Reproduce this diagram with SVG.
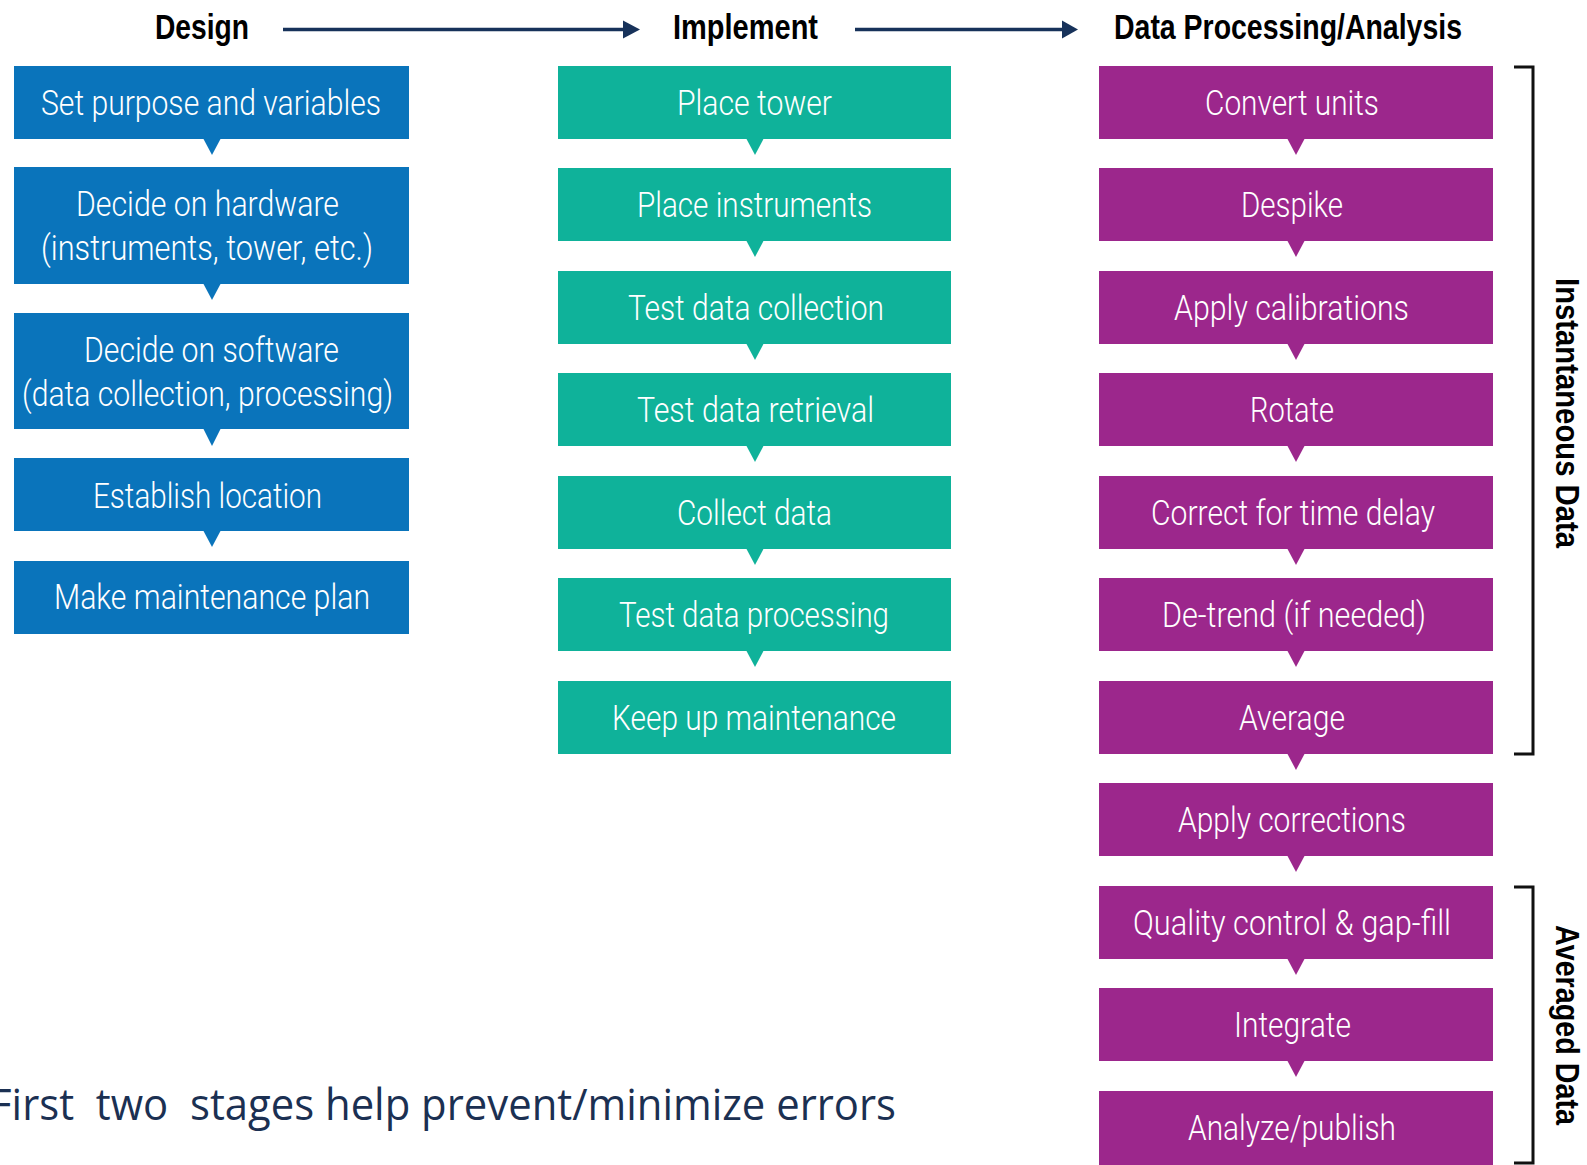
<svg xmlns="http://www.w3.org/2000/svg" width="1587" height="1165" viewBox="0 0 1587 1165">
  <style>
    .blue { fill: #0a74bb; }
    .teal { fill: #0fb29a; }
    .purple { fill: #9c278c; }
    .lbl { font-family: Roboto, "Liberation Sans", Arial, sans-serif; font-size: 35px; font-weight: 300; fill: #ffffff; }
    .hdr { font-family: "Liberation Sans", Arial, sans-serif; font-size: 35px; font-weight: bold; fill: #000000; }
    .side { font-family: "Liberation Sans", Arial, sans-serif; font-size: 34px; font-weight: bold; fill: #000000; }
    .note { font-family: "Open Sans", "Liberation Sans", sans-serif; font-size: 44px; fill: #1b3052; white-space: pre; }
    .flow { stroke: #17325a; stroke-width: 3.5; fill: none; }
    .head { fill: #17325a; }
    .bracket { stroke: #111111; stroke-width: 3; fill: none; }
  </style>

  <!-- column headings -->
  <g id="hdr-design"><text class="hdr" x="155" y="39" textLength="94" lengthAdjust="spacingAndGlyphs">Design</text></g>
  <g id="hdr-implement"><text class="hdr" x="673" y="39" textLength="145" lengthAdjust="spacingAndGlyphs">Implement</text></g>
  <g id="hdr-processing"><text class="hdr" x="1114" y="39" textLength="348" lengthAdjust="spacingAndGlyphs">Data Processing/Analysis</text></g>

  <!-- Design column -->
  <g id="d1"><rect class="blue" x="14" y="66" width="395" height="73"/>
    <text class="lbl" x="41" y="115" textLength="340" lengthAdjust="spacingAndGlyphs">Set purpose and variables</text></g>
  <g id="d2"><rect class="blue" x="14" y="167" width="395" height="117"/>
    <text class="lbl" x="76" y="216" textLength="263" lengthAdjust="spacingAndGlyphs">Decide on hardware</text>
    <text class="lbl" x="41" y="260" textLength="332" lengthAdjust="spacingAndGlyphs">(instruments, tower, etc.)</text></g>
  <g id="d3"><rect class="blue" x="14" y="313" width="395" height="116"/>
    <text class="lbl" x="84" y="362" textLength="255" lengthAdjust="spacingAndGlyphs">Decide on software</text>
    <text class="lbl" x="22" y="406" textLength="371" lengthAdjust="spacingAndGlyphs">(data collection, processing)</text></g>
  <g id="d4"><rect class="blue" x="14" y="458" width="395" height="73"/>
    <text class="lbl" x="93" y="508" textLength="229" lengthAdjust="spacingAndGlyphs">Establish location</text></g>
  <g id="d5"><rect class="blue" x="14" y="561" width="395" height="73"/>
    <text class="lbl" x="54" y="609" textLength="316" lengthAdjust="spacingAndGlyphs">Make maintenance plan</text></g>

  <!-- Implement column -->
  <g id="i1"><rect class="teal" x="558" y="66" width="393" height="73"/>
    <text class="lbl" x="677" y="115" textLength="155" lengthAdjust="spacingAndGlyphs">Place tower</text></g>
  <g id="i2"><rect class="teal" x="558" y="168" width="393" height="73"/>
    <text class="lbl" x="637" y="217" textLength="235" lengthAdjust="spacingAndGlyphs">Place instruments</text></g>
  <g id="i3"><rect class="teal" x="558" y="271" width="393" height="73"/>
    <text class="lbl" x="628" y="320" textLength="256" lengthAdjust="spacingAndGlyphs">Test data collection</text></g>
  <g id="i4"><rect class="teal" x="558" y="373" width="393" height="73"/>
    <text class="lbl" x="637" y="422" textLength="237" lengthAdjust="spacingAndGlyphs">Test data retrieval</text></g>
  <g id="i5"><rect class="teal" x="558" y="476" width="393" height="73"/>
    <text class="lbl" x="677" y="525" textLength="155" lengthAdjust="spacingAndGlyphs">Collect data</text></g>
  <g id="i6"><rect class="teal" x="558" y="578" width="393" height="73"/>
    <text class="lbl" x="619" y="627" textLength="270" lengthAdjust="spacingAndGlyphs">Test data processing</text></g>
  <g id="i7"><rect class="teal" x="558" y="681" width="393" height="73"/>
    <text class="lbl" x="612" y="730" textLength="284" lengthAdjust="spacingAndGlyphs">Keep up maintenance</text></g>

  <!-- Data processing column -->
  <g id="p1"><rect class="purple" x="1099" y="66" width="394" height="73"/>
    <text class="lbl" x="1205" y="115" textLength="174" lengthAdjust="spacingAndGlyphs">Convert units</text></g>
  <g id="p2"><rect class="purple" x="1099" y="168" width="394" height="73"/>
    <text class="lbl" x="1241" y="217" textLength="102" lengthAdjust="spacingAndGlyphs">Despike</text></g>
  <g id="p3"><rect class="purple" x="1099" y="271" width="394" height="73"/>
    <text class="lbl" x="1174" y="320" textLength="235" lengthAdjust="spacingAndGlyphs">Apply calibrations</text></g>
  <g id="p4"><rect class="purple" x="1099" y="373" width="394" height="73"/>
    <text class="lbl" x="1250" y="422" textLength="84" lengthAdjust="spacingAndGlyphs">Rotate</text></g>
  <g id="p5"><rect class="purple" x="1099" y="476" width="394" height="73"/>
    <text class="lbl" x="1151" y="525" textLength="284" lengthAdjust="spacingAndGlyphs">Correct for time delay</text></g>
  <g id="p6"><rect class="purple" x="1099" y="578" width="394" height="73"/>
    <text class="lbl" x="1162" y="627" textLength="264" lengthAdjust="spacingAndGlyphs">De-trend (if needed)</text></g>
  <g id="p7"><rect class="purple" x="1099" y="681" width="394" height="73"/>
    <text class="lbl" x="1239" y="730" textLength="106" lengthAdjust="spacingAndGlyphs">Average</text></g>
  <g id="p8"><rect class="purple" x="1099" y="783" width="394" height="73"/>
    <text class="lbl" x="1178" y="832" textLength="228" lengthAdjust="spacingAndGlyphs">Apply corrections</text></g>
  <g id="p9"><rect class="purple" x="1099" y="886" width="394" height="73"/>
    <text class="lbl" x="1133" y="935" textLength="318" lengthAdjust="spacingAndGlyphs">Quality control &amp; gap-fill</text></g>
  <g id="p10"><rect class="purple" x="1099" y="988" width="394" height="73"/>
    <text class="lbl" x="1234" y="1037" textLength="117" lengthAdjust="spacingAndGlyphs">Integrate</text></g>
  <g id="p11"><rect class="purple" x="1099" y="1091" width="394" height="74"/>
    <text class="lbl" x="1188" y="1140" textLength="208" lengthAdjust="spacingAndGlyphs">Analyze/publish</text></g>

  <!-- brackets grouping the processing steps -->
  <g id="grp-instantaneous">
    <path class="bracket" d="M1514,67 H1533 V754 H1514"/>
    <text class="side" transform="translate(1556,278) rotate(90)" textLength="270" lengthAdjust="spacingAndGlyphs">Instantaneous Data</text>
  </g>
  <g id="grp-averaged">
    <path class="bracket" d="M1514,887 H1533 V1163 H1514"/>
    <text class="side" transform="translate(1556,925) rotate(90)" textLength="200" lengthAdjust="spacingAndGlyphs">Averaged Data</text>
  </g>

  <!-- connectors: stage arrows and step pointers -->
  <g id="connectors">
    <line class="flow" x1="283" y1="29.5" x2="626" y2="29.5"/>
    <polygon class="head" points="623,20.5 640,29.5 623,38.5"/>
    <line class="flow" x1="855" y1="29.5" x2="1064" y2="29.5"/>
    <polygon class="head" points="1062,20.5 1078,29.5 1062,38.5"/>

    <polygon class="blue" points="203,138 221,138 212,155"/>
    <polygon class="blue" points="203,283 221,283 212,300"/>
    <polygon class="blue" points="203,428 221,428 212,446"/>
    <polygon class="blue" points="203,530 221,530 212,547"/>

    <polygon class="teal" points="746,138 764,138 755,155"/>
    <polygon class="teal" points="746,240 764,240 755,257"/>
    <polygon class="teal" points="746,343 764,343 755,360"/>
    <polygon class="teal" points="746,445 764,445 755,462"/>
    <polygon class="teal" points="746,548 764,548 755,565"/>
    <polygon class="teal" points="746,650 764,650 755,667"/>

    <polygon class="purple" points="1287,138 1305,138 1296,155"/>
    <polygon class="purple" points="1287,240 1305,240 1296,257"/>
    <polygon class="purple" points="1287,343 1305,343 1296,360"/>
    <polygon class="purple" points="1287,445 1305,445 1296,462"/>
    <polygon class="purple" points="1287,548 1305,548 1296,565"/>
    <polygon class="purple" points="1287,650 1305,650 1296,667"/>
    <polygon class="purple" points="1287,753 1305,753 1296,770"/>
    <polygon class="purple" points="1287,855 1305,855 1296,872"/>
    <polygon class="purple" points="1287,958 1305,958 1296,975"/>
    <polygon class="purple" points="1287,1060 1305,1060 1296,1077"/>
  </g>

  <!-- footnote -->
  <text class="note" x="-10" y="1120" textLength="906" lengthAdjust="spacingAndGlyphs" xml:space="preserve">First  two  stages help prevent/minimize errors</text>
</svg>
